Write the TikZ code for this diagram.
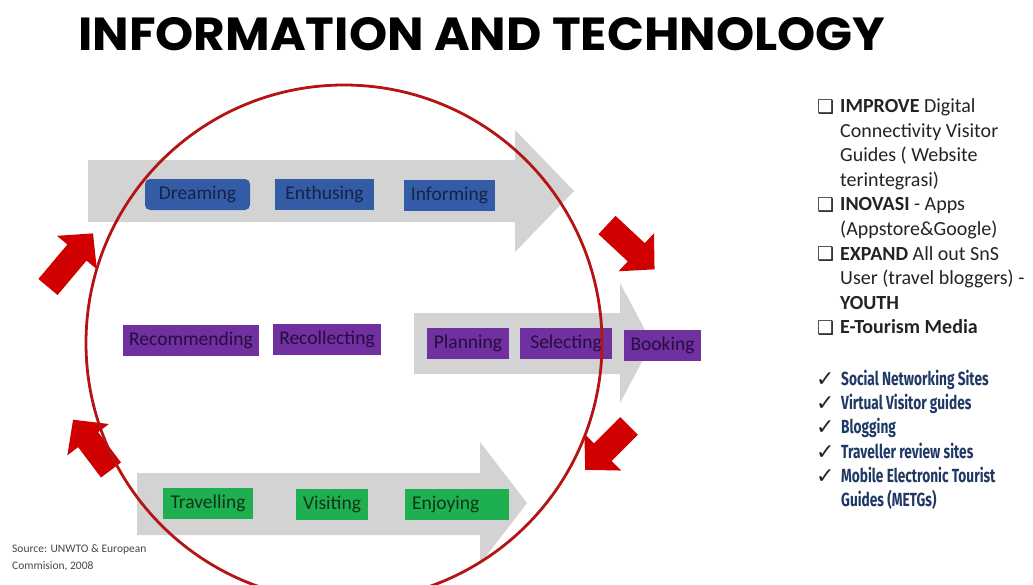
\documentclass[tikz,border=0pt]{standalone}
\usepackage{graphicx}
\usepackage{fontspec}
\setmainfont{Carlito}
\newfontfamily\titlefont{Poppins}
\newfontfamily\symfont{DejaVu Sans}
\newfontfamily\condfont[FakeStretch=0.72]{Fira Sans}
\definecolor{barGray}{RGB}{211,211,211}
\definecolor{boxBlue}{RGB}{52,92,166}
\definecolor{txtBlue}{RGB}{22,34,70}
\definecolor{boxPurple}{RGB}{112,48,160}
\definecolor{txtPurple}{RGB}{40,12,62}
\definecolor{boxGreen}{RGB}{30,176,80}
\definecolor{txtGreen}{RGB}{16,52,24}
\definecolor{arrRed}{RGB}{208,0,0}
\definecolor{ringRed}{RGB}{180,20,20}
\definecolor{navyTxt}{RGB}{31,56,100}
\definecolor{listTxt}{RGB}{35,35,35}
\definecolor{srcTxt}{RGB}{70,70,70}
\begin{document}
\begin{tikzpicture}[x=1pt,y=-1pt,
  stagebox/.style={inner sep=0pt, minimum height=31pt, font=\fontsize{19.5}{22}\selectfont},
  bluebox/.style={stagebox, fill=boxBlue, text=txtBlue},
  purplebox/.style={stagebox, fill=boxPurple, text=txtPurple},
  greenbox/.style={stagebox, fill=boxGreen, text=txtGreen},
  grayarrow/.style={fill=barGray, draw=none},
  redarrow/.style={fill=arrRed, draw=none},
  ring/.style={draw=ringRed, line width=2.8pt},
  listline/.style={anchor=base west, inner sep=0pt, text=listTxt, font=\fontsize{20}{24}\selectfont},
  bulletbox/.style={anchor=base west, inner sep=0pt, text=listTxt, font=\symfont\fontsize{19}{20}\selectfont},
  checkline/.style={anchor=base west, inner sep=0pt, text=navyTxt, font=\condfont\bfseries\fontsize{19}{22}\selectfont},
  checkmark/.style={anchor=base west, inner sep=0pt, text=listTxt, font=\symfont\fontsize{22}{24}\selectfont},
  srcline/.style={anchor=base west, inner sep=0pt, text=srcTxt, font=\fontsize{11.5}{13}\selectfont}
]
\useasboundingbox (0,0) rectangle (1033,584);
\clip (0,0) rectangle (1033,584);

% title
\node[anchor=north west, inner sep=0pt] (title) at (78,17)
  {\resizebox{807pt}{33pt}{\titlefont\bfseries INFORMATION AND TECHNOLOGY}};

% grey process arrows
\fill[grayarrow] (88,160) -- (515,160) -- (515,130) -- (574,191) -- (515,252) -- (515,222) -- (88,222) -- cycle;
\fill[grayarrow] (414,313) -- (620,313) -- (620,283) -- (652,343) -- (620,403) -- (620,374) -- (414,374) -- cycle;
\fill[grayarrow] (137,473) -- (480,473) -- (480,442) -- (527,503) -- (480,564) -- (480,535) -- (137,535) -- cycle;

% stage boxes
\node[bluebox, rounded corners=5pt, minimum width=105pt] (dreaming) at (197.5,194.5) {Dreaming};
\node[bluebox, minimum width=99pt] (enthusing) at (324.5,194) {Enthusing};
\node[bluebox, minimum width=91pt] (informing) at (449.5,195) {Informing};

\node[purplebox, minimum width=136pt] (recommending) at (191,340) {Recommending};
\node[purplebox, minimum width=108pt] (recollecting) at (327,339.5) {Recollecting};
\node[purplebox, minimum width=82pt] (planning) at (468,343.5) {Planning};
\node[purplebox, minimum width=92pt] (selecting) at (566,343.5) {Selecting};
\node[purplebox, minimum width=77pt] (booking) at (662.5,345.5) {Booking};

\node[greenbox, minimum width=90pt] (travelling) at (208,503) {Travelling};
\node[greenbox, minimum width=72pt] (visiting) at (332,504) {Visiting};
\node[greenbox, minimum width=104pt, text width=90pt, align=left] (enjoying) at (457,504) {Enjoying};

% red cycle arrows
\foreach \px/\py/\ang/\len in {48/287/50/70, 607/225/-43/65, 629/426/225/62, 111/470/127/63}{
  \begin{scope}[shift={(\px,\py)}, rotate=\ang]
    \fill[redarrow] (0,-12.5) -- (\len-25,-12.5) -- (\len-25,-26) -- (\len,0)
       -- (\len-25,26) -- (\len-25,12.5) -- (0,12.5) -- cycle;
  \end{scope}
}

% ring
\draw[ring] (344,343) circle[radius=258pt];

% right list
\node[bulletbox] (b1) at (817,113) {❑};
\node[listline] (l1) at (840,112.5) {\textbf{IMPROVE} Digital};
\node[listline] (l2) at (840,137.1) {Connectivity Visitor};
\node[listline] (l3) at (840,161.7) {Guides ( Website};
\node[listline] (l4) at (840,186.3) {terintegrasi)};
\node[bulletbox] (b2) at (817,211.4) {❑};
\node[listline] (l5) at (840,210.9) {\textbf{INOVASI} - Apps};
\node[listline] (l6) at (840,235.5) {(Appstore\&Google)};
\node[bulletbox] (b3) at (817,260.6) {❑};
\node[listline] (l7) at (840,260.1) {\textbf{EXPAND} All out SnS};
\node[listline] (l8) at (840,284.7) {User (travel bloggers) -};
\node[listline] (l9) at (840,309.3) {\textbf{YOUTH}};
\node[bulletbox] (b4) at (817,334.4) {❑};
\node[listline] (l10) at (840,333.9) {\textbf{E-Tourism Media}};

% checklist
\node[checkmark] (c1) at (816,386) {✓};
\node[checkline] (k1) at (841,385) {Social Networking Sites};
\node[checkmark] (c2) at (816,410) {✓};
\node[checkline] (k2) at (841,409) {Virtual Visitor guides};
\node[checkmark] (c3) at (816,434) {✓};
\node[checkline] (k3) at (841,433) {Blogging};
\node[checkmark] (c4) at (816,459) {✓};
\node[checkline] (k4) at (841,458) {Traveller review sites};
\node[checkmark] (c5) at (816,483) {✓};
\node[checkline] (k5) at (841,482) {Mobile Electronic Tourist};
\node[checkline] (k6) at (841,506) {Guides (METGs)};

% source
\node[srcline] (src1) at (12,552) {Source: UNWTO \& European};
\node[srcline] (src2) at (12,569) {Commision, 2008};
\end{tikzpicture}
\end{document}
